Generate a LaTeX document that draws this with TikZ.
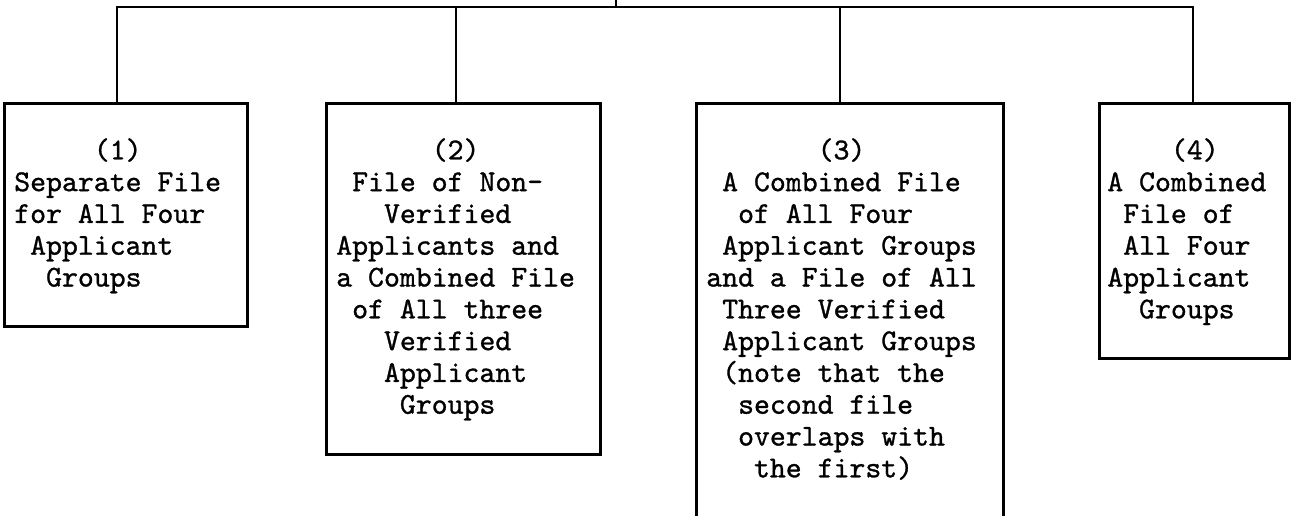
\documentclass[tikz,border=0pt]{standalone}
\usepackage{fontspec}
\setmonofont{lmmono10-regular.otf}[FakeBold=1]
\usetikzlibrary{calc}

% indent by a number of typewriter columns
\newcommand{\pad}[1]{\hspace*{#1\fontcharwd\font`M}}

\begin{document}
\begin{tikzpicture}[x=1pt, y=-1pt, line width=2.6pt,
        filebox/.style={draw, rectangle, anchor=north west, inner sep=0pt},
        filetext/.style={anchor=north west, align=left, inner sep=0pt,
            font=\fontsize{30.3}{31.8}\selectfont\ttfamily}]
        \useasboundingbox (0,0) rectangle (1291,516);
        \clip (0,0) rectangle (1291,516);

        % -- the four file options, open below where the page ends --
        \foreach \nm/\xl/\w/\h in {b1/3/243/223, b2/325/274/351,
                                    b3/695/307/430, b4/1098/190/255}
            \node[filebox, minimum width=\w pt, minimum height=\h pt]
                (\nm) at (\xl,102) {};

        % -- typed contents, indented column by column --
        \node[filetext] (t1) at ([shift={(10,35)}]b1.north west) {%
            \pad5(1)\\
            Separate File\\
            for All Four\\
            \pad1Applicant\\
            \pad2Groups};
        \node[filetext] (t2) at ([shift={(10,35)}]b2.north west) {%
            \pad6(2)\\
            \pad1File of Non-\\
            \pad3Verified\\
            Applicants and\\
            a Combined File\\
            \pad1of All three\\
            \pad3Verified\\
            \pad3Applicant\\
            \pad4Groups};
        \node[filetext] (t3) at ([shift={(10,35)}]b3.north west) {%
            \pad7(3)\\
            \pad1A Combined File\\
            \pad2of All Four\\
            \pad1Applicant Groups\\
            and a File of All\\
            \pad1Three Verified\\
            \pad1Applicant Groups\\
            \pad1(note that the\\
            \pad2second file\\
            \pad2overlaps with\\
            \pad3the first)};
        \node[filetext] (t4) at ([shift={(8,35)}]b4.north west) {%
            \pad4(4)\\
            A Combined\\
            \pad1File of\\
            \pad1All Four\\
            Applicant\\
            \pad2Groups};

        % -- branching bar with the stub that leads up out of view --
        \coordinate (up) at (616,0);
        \coordinate (j1) at (117,7);
        \coordinate (j2) at (456,7);
        \coordinate (j3) at (840,7);
        \coordinate (j4) at (1193,7);
        \draw (up) -- (up |- j1);
        \draw (j1 |- b1.north) -- (j1) -- (j4) -- (j4 |- b4.north);
        \draw (j2) -- (j2 |- b2.north);
        \draw (j3) -- (j3 |- b3.north);

\end{tikzpicture}
\end{document}
